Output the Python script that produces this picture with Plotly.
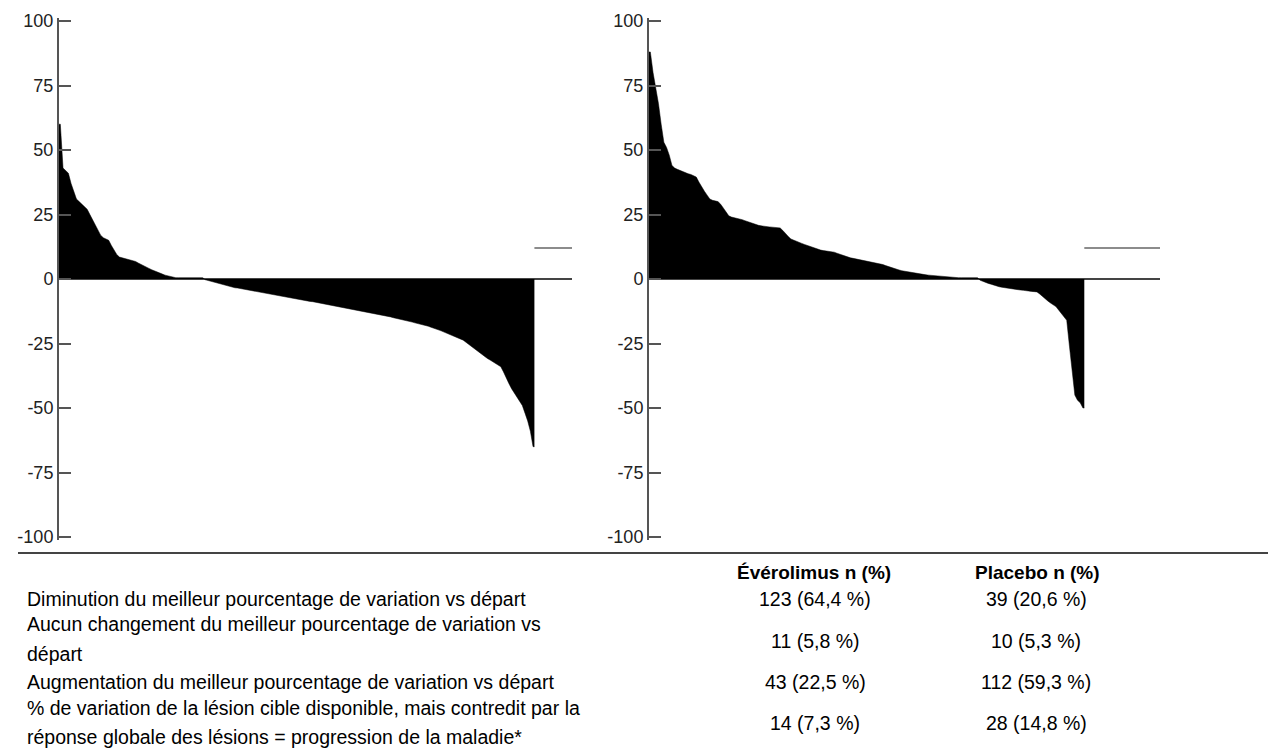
import plotly.graph_objects as go

# ---------------- data ----------------
evero_values = [
    60, 43, 42, 41, 37, 34, 31, 30, 29, 28, 27, 25, 23, 21, 19, 17, 16, 15.5, 15, 13,
    11, 9.5, 8.5, 8.2, 8, 7.8, 7.5, 7.3, 6.8, 6.2, 5.6, 5.2, 4.6, 4.1, 3.6, 3.1, 2.7, 2.3, 1.9, 1.5,
    1.2, 1.0, 0.8,
    0.5, 0.5, 0.5, 0.5, 0.5, 0.5, 0.5, 0.5, 0.5, 0.5, 0.5,
    -0.3, -0.6, -0.9, -1.2, -1.5, -1.8, -2.1, -2.4, -2.7, -3.0,
    -3.2, -3.4, -3.5, -3.7, -3.9, -4.0, -4.2, -4.4, -4.6, -4.8, -5.0,
    -5.2, -5.4, -5.6, -5.8, -6.0, -6.2, -6.4, -6.6, -6.8, -7.0, -7.2, -7.4, -7.6, -7.8, -8.0,
    -8.2, -8.3, -8.5, -8.7, -8.8, -9.0, -9.2, -9.3, -9.5, -9.7, -9.8, -10.0,
    -10.2, -10.4, -10.6, -10.8, -11.0, -11.2, -11.4, -11.6, -11.8, -12.0, -12.2, -12.4, -12.6,
    -12.8, -13.0, -13.2, -13.5, -13.7, -14.0,
    -14.2, -14.5, -14.7, -15.0, -15.2, -15.5, -15.7, -16.0, -16.2, -16.5, -16.7, -17.0, -17.2,
    -17.5, -17.7, -18.0,
    -18.3, -18.7, -19.0, -19.4, -19.8, -20.2, -20.6, -21.0, -21.4, -21.8, -22.2, -22.6, -23.0,
    -23.7, -24.5, -25.3, -26.0, -26.8, -27.6, -28.5, -29.5,
    -30.1, -30.8, -31.4, -32.0, -32.7, -33.3, -34.0,
    -36, -38.5, -40.5, -42.5,
    -44, -46, -47.5, -49,
    -52, -55, -59, -65,
]

placebo_values = [
    88, 80, 74, 68, 60, 53, 51, 48, 44, 43, 42.5, 42, 41.5, 41, 40.8, 40.5, 40, 39.5, 37.5, 35.5,
    34, 32.5, 31, 30.5, 30.2, 30, 29, 27.5, 26, 24.5, 24, 23.8, 23.6, 23.4, 23, 22.6, 22.2, 21.8,
    21.4, 21, 20.8, 20.6, 20.4, 20.3, 20.2, 20.1, 20, 20, 19.8, 18.8, 17.5, 16.5, 15.5, 15, 14.6,
    14.2, 13.8, 13.4, 13, 12.6, 12.2, 11.8, 11.4, 11.2, 11, 10.9, 10.8, 10.6, 10.4, 10, 9.6, 9.2,
    8.8, 8.5, 8.2, 8, 7.8, 7.6, 7.4, 7.2, 7, 6.8, 6.6, 6.4, 6.2, 6, 5.6, 5.2, 4.8, 4.4, 4.1, 3.8,
    3.5, 3.2, 3, 2.8, 2.6, 2.4, 2.2, 2, 1.8, 1.7, 1.6, 1.5, 1.4, 1.3, 1.2, 1.1, 1.0, 0.9, 0.8, 0.7,
    0.5, 0.5, 0.5, 0.5, 0.5, 0.5, 0.5, 0.5, 0.5, 0.5,
    -0.5, -1, -1.3, -1.7, -2, -2.4, -2.7, -3, -3.2, -3.4, -3.5, -3.7, -3.8, -4, -4.1, -4.3, -4.4,
    -4.6, -4.7, -4.8, -4.9, -5, -5.8, -6.8, -7.6, -8.5, -9.3, -10, -10.7, -12, -13.3, -14.6, -16,
    -26, -37, -45, -47, -48, -50,
]

# patients with % change available but overall response = progression
evero_prog_n = 14
placebo_prog_n = 28
prog_value = 12

y_tick_vals = [100, 75, 50, 25, 0, -25, -50, -75, -100]
y_tick_text = ["100", "75", "50", "25", "0", "-25", "-50", "-75", "-100"]

row_labels = [
    ["Diminution du meilleur pourcentage de variation vs départ"],
    ["Aucun changement du meilleur pourcentage de variation vs", "départ"],
    ["Augmentation du meilleur pourcentage de variation vs départ"],
    ["% de variation de la lésion cible disponible, mais contredit par la",
     "réponse globale des lésions = progression de la maladie*"],
]
col_headers = ["Évérolimus n (%)", "Placebo n (%)"]
evero_col = ["123 (64,4 %)", "11 (5,8 %)", "43 (22,5 %)", "14 (7,3 %)"]
placebo_col = ["39 (20,6 %)", "10 (5,3 %)", "112 (59,3 %)", "28 (14,8 %)"]

# ---------------- figure ----------------
W, H = 1270, 749
FONT = "Liberation Sans, Arial, sans-serif"
AX = "#555555"

fig = go.Figure()


def add_panel(values, prog_n, xa, ya):
    n = len(values)
    # patient i drawn at x=i; outer edges at 0.5 and n+0.5
    xs = [0.5] + [i + 1 for i in range(n)] + [n + 0.5]
    ys = [values[0]] + list(values) + [values[-1]]
    fig.add_trace(go.Scatter(
        x=xs, y=ys, xaxis=xa, yaxis=ya, mode="lines",
        line=dict(color="black", width=0.5),
        fill="tozeroy", fillcolor="black",
        showlegend=False, hoverinfo="skip",
    ))
    fig.add_trace(go.Scatter(
        x=[n + 0.5, n + prog_n + 0.5], y=[prog_value, prog_value], xaxis=xa, yaxis=ya,
        mode="lines", line=dict(color="#666666", width=1.5),
        showlegend=False, hoverinfo="skip",
    ))
    return n + prog_n


tot_l = add_panel(evero_values, evero_prog_n, "x", "y")
tot_r = add_panel(placebo_values, placebo_prog_n, "x2", "y2")

# 100 -> pixel 21, -100 -> pixel 537 ; range padded by 1 unit so end ticks are kept
PPU = (537 - 21) / 200.0
Y_PAD = 1.0
y_dom = [(H - (537 + Y_PAD * PPU)) / H, (H - (21 - Y_PAD * PPU)) / H]

yaxis_common = dict(
    range=[-100 - Y_PAD, 100 + Y_PAD], tickvals=y_tick_vals, ticktext=y_tick_text,
    showline=True, linecolor=AX, linewidth=2,
    ticks="inside", ticklen=12, tickwidth=2, tickcolor=AX,
    showgrid=False, zeroline=True, zerolinecolor="#444444", zerolinewidth=2,
    tickfont=dict(family=FONT, size=18, color="#222222"),
    domain=y_dom, fixedrange=True, automargin=False,
)
xaxis_common = dict(showgrid=False, zeroline=False, showline=False,
                    showticklabels=False, ticks="", fixedrange=True, automargin=False)

fig.update_layout(
    width=W, height=H, autosize=False,
    margin=dict(l=0, r=0, t=0, b=0, pad=0, autoexpand=False),
    paper_bgcolor="white", plot_bgcolor="white",
    xaxis=dict(xaxis_common, domain=[59 / W, 572 / W], range=[0.5, tot_l + 0.5]),
    xaxis2=dict(xaxis_common, domain=[649 / W, 1160 / W], range=[0.5, tot_r + 0.5]),
    yaxis=dict(yaxis_common, anchor="x"),
    yaxis2=dict(yaxis_common, anchor="x2"),
)

# separator line under the charts
fig.add_shape(type="line", xref="paper", yref="paper",
              x0=18 / W, x1=1268 / W, y0=1 - 553 / H, y1=1 - 553 / H,
              line=dict(color="#444444", width=2))


def ann(text, px, py, anchor="left", bold=False, size=19.5):
    fig.add_annotation(
        xref="paper", yref="paper", x=px / W, y=1 - py / H,
        text=("<b>%s</b>" % text) if bold else text,
        showarrow=False, xanchor=anchor, yanchor="middle",
        font=dict(family=FONT, size=size, color="black"),
    )


# headers
ann(col_headers[0], 814, 572, "center", bold=True, size=19)
ann(col_headers[1], 1037, 572, "center", bold=True, size=19)

# row labels (one annotation per line)
label_lines_y = [[599], [624, 654], [682], [708, 737]]
value_y = [599, 641, 682, 723]
for lines, ys in zip(row_labels, label_lines_y):
    for t, yy in zip(lines, ys):
        ann(t, 25, yy, "left")
for v, yy in zip(evero_col, value_y):
    ann(v, 815, yy, "center")
for v, yy in zip(placebo_col, value_y):
    ann(v, 1036, yy, "center")

fig.write_html(
    "out.html",
    config={"displayModeBar": False},
    post_script="document.body.style.margin='0';document.body.style.overflow='hidden';",
)
